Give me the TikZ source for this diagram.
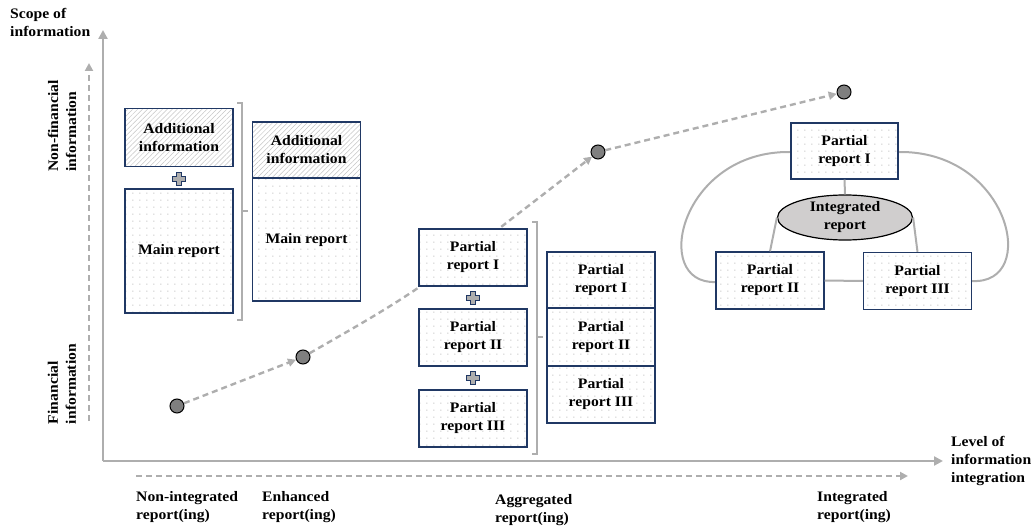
\documentclass[tikz,border=0pt]{standalone}
\usepackage{fontspec}
\setmainfont{Liberation Serif}[FakeStretch=1.08]
\usetikzlibrary{arrows.meta,shapes.geometric,patterns,patterns.meta}
\definecolor{navy}{RGB}{32,56,100}
\definecolor{axisgray}{RGB}{174,174,174}
\definecolor{ptgray}{RGB}{127,127,127}
\definecolor{ellgray}{RGB}{208,206,206}
\definecolor{dotgray}{RGB}{170,170,170}
\tikzdeclarepattern{
  name=sparsedots,
  type=colored,
  bottom left={(-1pt,-1pt)},
  top right={(6pt,6pt)},
  tile size={(7pt,7pt)},
  code={\fill[dotgray] (0pt,0pt) circle[radius=0.6pt];}
}
\tikzset{
  lbl/.style={font=\fontsize{14.5}{18}\selectfont\bfseries, inner sep=0pt},
  rbox/.style={draw=navy, line width=1.4pt, preaction={fill=white}, preaction={pattern=sparsedots},
    minimum width=108pt, minimum height=57pt, inner sep=0pt, align=center,
    font=\fontsize{14.5}{18}\selectfont\bfseries},
  hbox/.style={draw=navy, line width=1.4pt, preaction={fill=white},
    preaction={pattern={Lines[angle=45,distance=3.5pt,line width=0.5pt]}, pattern color=gray!45},
    minimum width=108pt, minimum height=57pt, inner sep=0pt, align=center,
    font=\fontsize{14.5}{18}\selectfont\bfseries},
  axisline/.style={draw=axisgray, line width=2.4pt, -{Triangle[length=9pt,width=9pt]}},
  dasharrow/.style={draw=axisgray, line width=2.4pt, dash pattern=on 6pt off 4pt, -{Triangle[length=8pt,width=8pt]}},
  bracket/.style={draw=axisgray, line width=2pt},
  loopline/.style={draw=axisgray, line width=2pt},
  point/.style={circle, minimum size=14pt, inner sep=0pt, fill=ptgray, draw=black, line width=1pt},
  plussign/.pic={\draw[draw=navy, fill=axisgray, line width=0.9pt]
    (-2.5,-6.5)--(2.5,-6.5)--(2.5,-2.5)--(6.5,-2.5)--(6.5,2.5)--(2.5,2.5)--(2.5,6.5)--(-2.5,6.5)
    --(-2.5,2.5)--(-6.5,2.5)--(-6.5,-2.5)--(-2.5,-2.5)--cycle;}
}
\begin{document}
\begin{tikzpicture}[x=1pt,y=-1pt]
\useasboundingbox (0,0) rectangle (1035,529);
% axes
\coordinate (org) at (103,461);
\coordinate (ytop) at (103,30);
\coordinate (xend) at (943,461);
\draw[axisline] (org) -- (ytop);
\draw[axisline] (org) -- (xend);
\coordinate (vdb) at (89,421);
\coordinate (vdt) at (89,63);
\draw[dasharrow] (vdb) -- (vdt);
\coordinate (hdl) at (136,476);
\coordinate (hdr) at (908,476);
\draw[dasharrow] (hdl) -- (hdr);
% axis labels
\node[lbl, anchor=north west, align=left] (scope) at (10,8) {Scope of\\information};
\node[lbl, anchor=west, align=left] (level) at (951,461) {Level of\\information\\integration};
\node[lbl, rotate=90, align=left] (nonfin) at (62,126) {Non-financial\\information};
\node[lbl, rotate=90, align=left] (fin) at (62,384) {Financial\\information};
\node[lbl, anchor=north west, align=left] (l1) at (136,491) {Non-integrated\\report(ing)};
\node[lbl, anchor=north west, align=left] (l2) at (262,491) {Enhanced\\report(ing)};
\node[lbl, anchor=north west, align=left] (l3) at (495,494) {Aggregated\\report(ing)};
\node[lbl, anchor=north west, align=left] (l4) at (817,491) {Integrated\\report(ing)};
% points
\node[point] (p1) at (177,406) {};
\node[point] (p2) at (303,357) {};
\node[point] (p3) at (598,152) {};
\node[point] (p4) at (844,92) {};
\draw[dasharrow] (p1) -- (p2);
\draw[dasharrow] (p2) .. controls (420,290) .. (p3);
\draw[dasharrow] (p3) -- (p4);
% enhanced reporting
\node[hbox, minimum height=58pt] (add1) at (179,137.5) {Additional\\information};
\pic at (179,179) {plussign};
\node[rbox, minimum height=124pt] (main1) at (179,251) {Main report};
\draw[bracket] (237,103) -- (242,103) -- (242,320) -- (237,320);
\draw[bracket] (242,211) -- (248,211);
\node[rbox, minimum height=178pt] (main2) at (306.5,212) {};
\node[hbox, minimum height=56pt] (add2) at (306.5,150) {Additional\\information};
\node[lbl] (main2txt) at (306.5,240) {Main report};
% aggregated reporting
\node[rbox] (a1) at (473,257.5) {Partial\\report I};
\pic at (473,298) {plussign};
\node[rbox] (a2) at (473,337.5) {Partial\\report II};
\pic at (473,378) {plussign};
\node[rbox] (a3) at (473,418.5) {Partial\\report III};
\draw[bracket] (532,222) -- (537,222) -- (537,454) -- (532,454);
\draw[bracket] (537,337) -- (543,337);
\node[rbox, minimum height=56pt] (b1) at (601,280) {Partial\\report I};
\node[rbox, minimum height=58pt] (b2) at (601,337) {Partial\\report II};
\node[rbox, minimum height=57pt] (b3) at (601,394.5) {Partial\\report III};
% integrated reporting
\draw[loopline] (791,152) .. controls (680,150) and (650,285) .. (716,282);
\draw[loopline] (898,152) .. controls (1010,150) and (1040,285) .. (972,281);
\node[rbox, minimum height=56pt, minimum width=107pt] (c1) at (844.5,151) {Partial\\report I};
\node[rbox] (c2) at (770,280.5) {Partial\\report II};
\node[rbox] (c3) at (917.5,281) {Partial\\report III};
\node[ellipse, draw=black, line width=1.2pt, fill=ellgray, minimum width=135pt, minimum height=45pt,
  inner sep=0pt, align=center, font=\fontsize{14.5}{18}\selectfont\bfseries] (ir) at (845,217.5) {Integrated\\report};
\draw[loopline] (c1.south) -- (ir.north);
\draw[loopline] (ir.west) -- (c2.north);
\draw[loopline] (ir.east) -- (c3.north);
\draw[loopline] (c2.east) -- (c3.west);
\end{tikzpicture}
\end{document}
